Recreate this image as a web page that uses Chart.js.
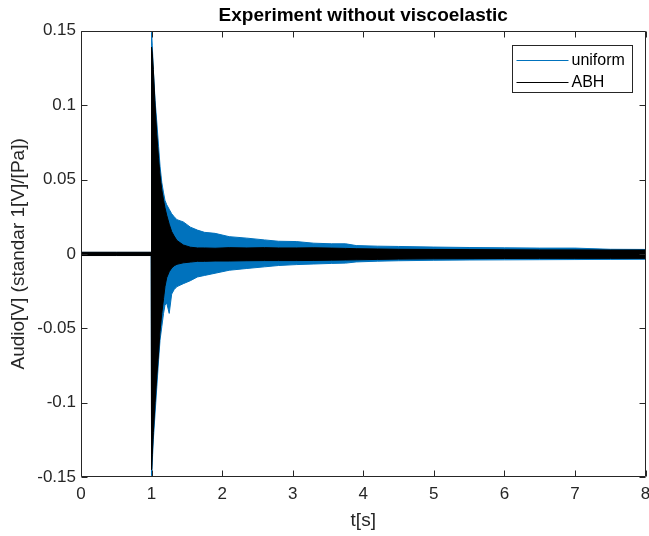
<!DOCTYPE html>
<html>
<head>
<meta charset="utf-8">
<script src="https://cdn.jsdelivr.net/npm/chart.js@4/dist/chart.umd.min.js"></script>
<style>
  body { margin: 0; background: #fff; }
</style>
</head>
<body>
<canvas id="myChart" width="649" height="536"></canvas>
<script>
const timeS = [0, 0.5, 0.995, 1.0, 1.01, 1.025, 1.05, 1.075, 1.1, 1.12, 1.145, 1.17, 1.19, 1.215, 1.25, 1.285, 1.32, 1.36, 1.45, 1.55, 1.65, 1.75, 1.9, 2.1, 2.35, 2.6, 2.8, 3.05, 3.3, 3.55, 3.75, 3.9, 4.2, 4.5, 5.0, 5.5, 6.0, 6.5, 7.0, 7.5, 8.0];

const uniformUpper = [0.001, 0.001, 0.001, 0.149, 0.14, 0.124, 0.103, 0.088, 0.072, 0.059, 0.048, 0.041, 0.036, 0.033, 0.030, 0.027, 0.025, 0.023, 0.0215, 0.018, 0.016, 0.0145, 0.0138, 0.0116, 0.0106, 0.0094, 0.0085, 0.0083, 0.0072, 0.0068, 0.0068, 0.0056, 0.0052, 0.005, 0.0046, 0.0043, 0.0041, 0.0039, 0.0039, 0.0031, 0.003];
const uniformLower = [-0.001, -0.001, -0.001, -0.149, -0.14, -0.125, -0.107, -0.089, -0.071, -0.058, -0.049, -0.040, -0.0345, -0.033, -0.040, -0.027, -0.024, -0.022, -0.020, -0.018, -0.0155, -0.0145, -0.013, -0.011, -0.0098, -0.0087, -0.0078, -0.0072, -0.0068, -0.0064, -0.0062, -0.0054, -0.0049, -0.0046, -0.0043, -0.0041, -0.004, -0.0039, -0.0038, -0.0037, -0.0036];

const abhUpper = [0.0011, 0.0011, 0.0011, 0.139, 0.135, 0.124, 0.1, 0.08, 0.064, 0.053, 0.043, 0.036, 0.031, 0.026, 0.020, 0.015, 0.012, 0.009, 0.006, 0.0045, 0.004, 0.004, 0.0038, 0.0042, 0.004, 0.0042, 0.004, 0.004, 0.0041, 0.0039, 0.0037, 0.0035, 0.0033, 0.0031, 0.003, 0.0029, 0.0028, 0.0027, 0.0027, 0.0026, 0.0026];
const abhLower = [-0.0011, -0.0011, -0.0011, -0.145, -0.135, -0.12, -0.1, -0.082, -0.066, -0.052, -0.04, -0.03, -0.022, -0.016, -0.012, -0.0095, -0.008, -0.007, -0.006, -0.0055, -0.005, -0.005, -0.0048, -0.0048, -0.0046, -0.0045, -0.0045, -0.0045, -0.0044, -0.0042, -0.0041, -0.004, -0.0037, -0.0035, -0.0033, -0.0032, -0.0031, -0.003, -0.003, -0.003, -0.003];

const seriesNames = ['uniform', 'ABH'];
const seriesColors = ['#0072BD', '#000000'];

const xTickValues = [0, 1, 2, 3, 4, 5, 6, 7, 8];
const xTickLabels = ['0', '1', '2', '3', '4', '5', '6', '7', '8'];
const yTickValues = [-0.15, -0.1, -0.05, 0, 0.05, 0.1, 0.15];
const yTickLabels = ['-0.15', '-0.1', '-0.05', '0', '0.05', '0.1', '0.15'];

const FONT = '"Liberation Sans", Arial, Helvetica, sans-serif';
const AXIS = '#262626';

function pts(vals) {
    return timeS.map((t, i) => ({ x: t, y: vals[i] }));
}

function band(name, color, vals, fill, order) {
    return {
        label: name,
        data: pts(vals),
        borderColor: color,
        backgroundColor: color,
        borderWidth: 1,
        pointRadius: 0,
        tension: 0,
        fill: fill,
        order: order
    };
}

// matlab style box with inward ticks on all four sides
const axesBox = {
    id: 'axesBox',
    afterDatasetsDraw(chart) {
        const { ctx, chartArea: a, scales } = chart;
        const L = Math.round(a.left) + 0.5, R = Math.round(a.right) - 0.5;
        const T = Math.round(a.top) + 0.5, B = Math.round(a.bottom) - 0.5;
        const tl = 6;
        ctx.save();
        ctx.strokeStyle = AXIS;
        ctx.lineWidth = 1;
        ctx.beginPath();
        ctx.rect(L, T, R - L, B - T);
        xTickValues.forEach(v => {
            const x = Math.round(scales.x.getPixelForValue(v)) + 0.5;
            ctx.moveTo(x, B); ctx.lineTo(x, B - tl);
            ctx.moveTo(x, T); ctx.lineTo(x, T + tl);
        });
        yTickValues.forEach(v => {
            const y = Math.round(scales.y.getPixelForValue(v)) + 0.5;
            ctx.moveTo(L, y); ctx.lineTo(L + tl, y);
            ctx.moveTo(R, y); ctx.lineTo(R - tl, y);
        });
        ctx.stroke();
        ctx.restore();
    }
};

const boxLegend = {
    id: 'boxLegend',
    afterDraw(chart) {
        const { ctx, chartArea: a } = chart;
        const w = 120, h = 47;
        const x0 = Math.round(a.right - 13.5 - w) + 0.5;
        const y0 = Math.round(a.top + 14) + 0.5;
        ctx.save();
        ctx.fillStyle = '#fff';
        ctx.fillRect(x0, y0, w, h);
        ctx.strokeStyle = AXIS;
        ctx.lineWidth = 1;
        ctx.strokeRect(x0, y0, w, h);
        ctx.font = '16px ' + FONT;
        ctx.textBaseline = 'middle';
        ctx.textAlign = 'left';
        seriesNames.forEach((name, i) => {
            const y = y0 + 14 + i * 22;
            ctx.strokeStyle = seriesColors[i];
            ctx.beginPath();
            ctx.moveTo(x0 + 4, Math.round(y) + 0.5);
            ctx.lineTo(x0 + 56, Math.round(y) + 0.5);
            ctx.stroke();
            ctx.fillStyle = '#000';
            ctx.fillText(name, x0 + 59, y + 1);
        });
        ctx.restore();
    }
};

const config = {
    type: 'line',
    data: {
        datasets: [
            band(seriesNames[0], seriesColors[0], uniformUpper, false, 2),
            band(seriesNames[0], seriesColors[0], uniformLower, '-1', 2),
            band(seriesNames[1], seriesColors[1], abhUpper, false, 1),
            band(seriesNames[1], seriesColors[1], abhLower, '-1', 1)
        ]
    },
    options: {
        responsive: false,
        animation: false,
        layout: { padding: { left: 0, right: 3.5, top: 0, bottom: 0 } },
        plugins: {
            legend: { display: false },
            tooltip: { enabled: false },
            title: {
                display: true,
                text: 'Experiment without viscoelastic',
                fullSize: false,
                color: '#000',
                font: { family: FONT, size: 19, weight: 'bold' },
                padding: { top: 4, bottom: 4 }
            }
        },
        scales: {
            x: {
                type: 'linear',
                min: 0,
                max: 8,
                grid: { display: false, drawTicks: false },
                border: { display: false },
                afterBuildTicks: s => { s.ticks = xTickValues.map(v => ({ value: v })); },
                afterFit: s => { s.height = 59; s.paddingLeft = 0; s.paddingRight = 0; },
                ticks: {
                    padding: 7,
                    color: AXIS,
                    maxRotation: 0,
                    font: { family: FONT, size: 17 },
                    callback: (v, i) => xTickLabels[i]
                },
                title: {
                    display: true,
                    text: 't[s]',
                    color: AXIS,
                    font: { family: FONT, size: 19 },
                    padding: { top: 0, bottom: 4 }
                }
            },
            y: {
                min: -0.15,
                max: 0.15,
                grid: { display: false, drawTicks: false },
                border: { display: false },
                afterBuildTicks: s => { s.ticks = yTickValues.map(v => ({ value: v })); },
                afterFit: s => { s.width = 81; s.paddingTop = 0; s.paddingBottom = 0; },
                ticks: {
                    padding: 5,
                    color: AXIS,
                    font: { family: FONT, size: 17 },
                    callback: (v, i) => yTickLabels[i]
                },
                title: {
                    display: true,
                    text: 'Audio[V] (standar 1[V]/[Pa])',
                    color: AXIS,
                    font: { family: FONT, size: 19 },
                    padding: { top: 7, bottom: 0 }
                }
            }
        }
    },
    plugins: [axesBox, boxLegend]
};

const myChart = new Chart(document.getElementById('myChart'), config);
</script>
</body>
</html>
